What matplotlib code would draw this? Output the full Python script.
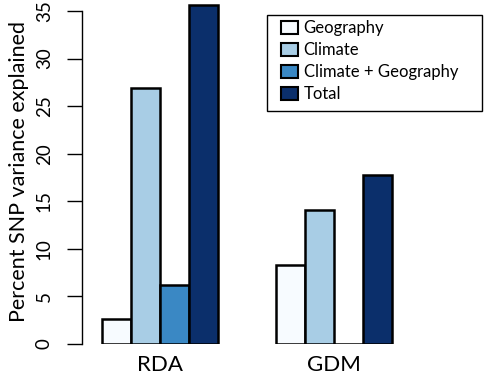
import matplotlib
matplotlib.use("Agg")
import matplotlib.pyplot as plt
from matplotlib.patches import Patch, Rectangle

plt.rcParams['font.family'] = ['Lato', 'DejaVu Sans']

groups = ["RDA", "GDM"]
components = ["Geography", "Climate", "Climate + Geography", "Total"]
rda_values = [2.6, 26.9, 6.2, 35.6]
gdm_values = [8.3, 14.1, 0.0, 17.8]
values = [rda_values, gdm_values]
colors = ["#f7fbff", "#a8cde5", "#3a88c4", "#0b2f6b"]
yticks = [0, 5, 10, 15, 20, 25, 30, 35]

W, H = 484, 375
fig = plt.figure(figsize=(W / 100, H / 100), dpi=100)
ax = fig.add_axes([82 / W, (375 - 344) / H, 1 - 82 / W, 344 / H])

n = len(components)
gap = 2
for g, vals in enumerate(values):
    for i, v in enumerate(vals):
        x = g * (n + gap) + i
        ax.bar(x, v, width=1, align='edge', color=colors[i],
               edgecolor='black', linewidth=1.8, zorder=2)

centers = [g * (n + gap) + n / 2 for g in range(len(groups))]
ax.set_xticks(centers)
ax.set_xticklabels(groups, fontsize=16)
ax.tick_params(axis='x', length=0, pad=8)

ax.set_xlim(-20 / 29, (484 - 102) / 29)
ax.set_ylim(0, 344 / 9.514)
ax.set_yticks(yticks)
ax.set_yticklabels([str(t) for t in yticks], fontsize=13.5, rotation=90, va='center')
ax.tick_params(axis='y', length=11, width=1, pad=10, direction='out')
ax.set_ylabel("Percent SNP variance explained", fontsize=15.5, labelpad=5)

for s in ['top', 'right', 'bottom']:
    ax.spines[s].set_visible(False)
ax.spines['left'].set_bounds(0, 35)
ax.spines['left'].set_linewidth(1)

# legend frame
fig.patches.append(Rectangle((267 / W, 1 - 111 / H), (482 - 267) / W, (111 - 15) / H,
                             transform=fig.transFigure, fill=False,
                             edgecolor='black', linewidth=1))

handles = [Patch(facecolor=c, edgecolor='black', linewidth=1.5) for c in colors]
leg = fig.legend(handles, components, loc='upper left',
                 bbox_to_anchor=(281 / W, 1 - 20 / H), fontsize=12,
                 frameon=False,
                 handlelength=1.0, handleheight=0.8, handletextpad=0.35,
                 labelspacing=0.36, borderpad=0, borderaxespad=0)

fig.savefig("out.png", dpi=100)
